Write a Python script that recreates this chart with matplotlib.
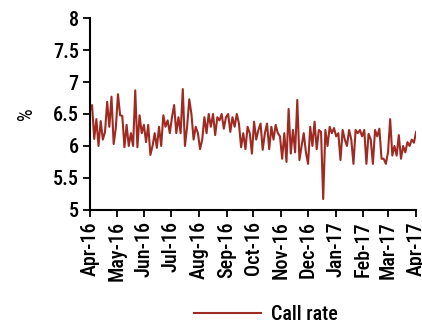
import pandas as pd
import matplotlib
matplotlib.use('Agg')
import matplotlib.pyplot as plt
import matplotlib.dates as mdates

plt.rcParams['font.family'] = ['Roboto Condensed', 'Roboto', 'DejaVu Sans']
plt.rcParams['font.weight'] = 'medium'

# daily call rate, Apr-16 to Mar-17 (%)
call_rate = [
    6.55, 6.64, 6.11, 6.42, 6.00, 6.39, 6.10, 6.22, 6.69, 6.30, 6.77, 6.03,
    6.28, 6.81, 6.48, 6.47, 5.98, 6.33, 6.00, 6.20, 6.00, 6.87,
    5.98, 6.48, 6.20, 6.33, 6.06, 6.33, 5.86, 6.00, 6.20, 5.97, 6.30, 6.00,
    6.48, 6.30, 6.40, 6.20, 6.45, 6.64, 6.20, 6.45, 6.20, 6.89,
    6.00, 6.30, 6.73, 6.50, 6.10, 6.30, 6.20, 5.95, 6.10, 6.45, 6.20, 6.50,
    6.30, 6.50, 6.17, 6.45, 6.40, 6.50, 6.27, 6.45, 6.50,
    6.22, 6.45, 6.30, 6.50, 6.35, 5.98, 6.20, 5.95, 6.30, 6.20, 5.88, 6.38,
    6.10, 6.25, 6.35, 5.94, 6.20, 6.35, 5.95, 6.30, 6.10,
    6.33, 6.20, 6.15, 5.80, 6.20, 5.75, 6.58, 5.88, 6.25, 5.90, 6.72, 5.78,
    6.00, 6.20, 5.90, 5.72, 6.30, 6.00, 6.38, 5.95, 6.25, 6.22, 5.17,
    6.25, 6.00, 6.30, 6.20, 6.28, 6.15, 6.20, 5.78, 6.25, 6.10, 6.00, 6.25,
    6.10, 5.72, 6.25, 6.20, 6.25, 6.15, 6.25, 5.72, 6.19,
    6.10, 5.72, 6.25, 6.15, 6.27, 5.80, 5.80, 5.72, 5.90, 6.42, 5.85, 6.00,
    5.85, 6.17, 5.80, 6.00, 5.90, 6.06, 6.00, 6.10, 6.05, 6.22,
]
dates = pd.date_range('2016-04-01', '2017-04-01', periods=len(call_rate))

fig = plt.figure(figsize=(4.22, 3.29), dpi=100)
ax = fig.add_axes([0.213, 0.362, 0.773, 0.583])

ax.plot(dates, call_rate, color='#9E2A22', lw=1.5, label='Call rate')

ax.set_ylim(5, 8)
ax.set_yticks([5, 5.5, 6, 6.5, 7, 7.5, 8])
ax.set_yticklabels(['5', '5.5', '6', '6.5', '7', '7.5', '8'])
ax.set_xlim(pd.Timestamp('2016-04-01'), pd.Timestamp('2017-04-01'))
ax.xaxis.set_major_locator(mdates.MonthLocator())
ax.xaxis.set_major_formatter(mdates.DateFormatter('%b-%y'))
plt.setp(ax.get_xticklabels(), rotation=90)

ax.set_ylabel('%', fontsize=14.5, labelpad=12)
ax.tick_params(labelsize=14.5, direction='out', length=5, width=1.3,
               color='black', pad=3)
for side in ('top', 'right'):
    ax.spines[side].set_visible(False)
for side in ('left', 'bottom'):
    ax.spines[side].set_linewidth(1.5)

fig.legend(loc='center', bbox_to_anchor=(0.63, 0.045), frameon=False,
           fontsize=14.5, handlelength=3.3, handletextpad=0.5)

fig.savefig('out.png', dpi=100)
